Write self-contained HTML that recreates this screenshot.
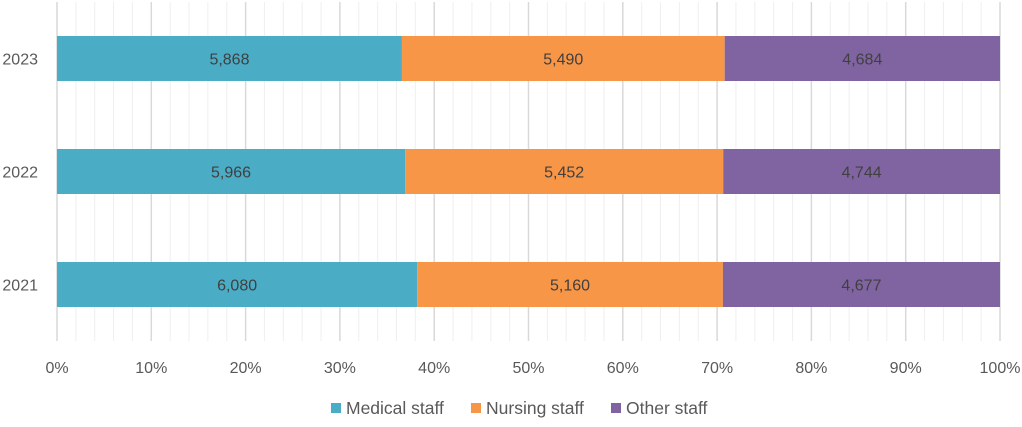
<!DOCTYPE html>
<html><head><meta charset="utf-8"><style>
body{margin:0;background:#fff;font-family:"Liberation Sans",sans-serif;}
svg text{font-family:"Liberation Sans",sans-serif;}
</style></head><body>
<svg id="chart" width="1022" height="422"></svg>
<script>
const categories = ["2023","2022","2021"];
const medical = [5868,5966,6080];
const nursing = [5490,5452,5160];
const other = [4684,4744,4677];
const seriesNames = ["Medical staff","Nursing staff","Other staff"];
const tickLabels = ["0%","10%","20%","30%","40%","50%","60%","70%","80%","90%","100%"];

const svg = document.getElementById('chart');
const NS = 'http://www.w3.org/2000/svg';
const colors = ['#4BACC6','#F79646','#8064A2'];
const x0 = 57, x1 = 1000, yTop = 2, yBot = 341;
const xs = p => x0 + (x1 - x0) * p;
const band = (yBot - yTop) / categories.length;
const yc = i => yTop + band * (i + 0.5);
function mk(tag, attrs){const e=document.createElementNS(NS,tag);for(const k in attrs)e.setAttribute(k,attrs[k]);svg.appendChild(e);return e;}

for (let i = 0; i <= 50; i++) {
  const major = i % 5 === 0;
  const l = mk('line',{x1:xs(i/50),x2:xs(i/50),y1:yTop,y2:yBot,stroke:major?'#d9d9d9':'#efefef','stroke-width':major?1.5:1});
  
  
}
tickLabels.forEach((t,i)=>{
  const e = mk('text',{x:xs(i/10),y:373,'text-anchor':'middle','font-size':16,fill:'#595959'});
  e.textContent = t;
  
  
});
const series = [medical, nursing, other];
categories.forEach((c,i)=>{
  const lab = mk('text',{x:38,y:yc(i)+6,'text-anchor':'end','font-size':16,fill:'#595959'});
  lab.textContent = c;
  
  
  const total = medical[i] + nursing[i] + other[i];
  let acc = 0;
  series.forEach((s,j)=>{
    const a = xs(acc/total), b = xs((acc+s[i])/total);
    const r = mk('rect',{x:a,y:yc(i)-22.5,width:b-a,height:45,fill:colors[j]});
    
    
    const t = mk('text',{x:(a+b)/2,y:yc(i)+6,'text-anchor':'middle','font-size':16,fill:'#404040'});
    t.textContent = s[i].toLocaleString('en-US');
    
    
    acc += s[i];
  });
});
const legX = [331, 471, 611];
seriesNames.forEach((n,j)=>{
  const r = mk('rect',{x:legX[j],y:403,width:10,height:10,fill:colors[j]});
  
  
  const t = mk('text',{x:legX[j]+15,y:414,'font-size':17.5,fill:'#595959'});
  t.textContent = n;
  
  
});
</script>
</body></html>
